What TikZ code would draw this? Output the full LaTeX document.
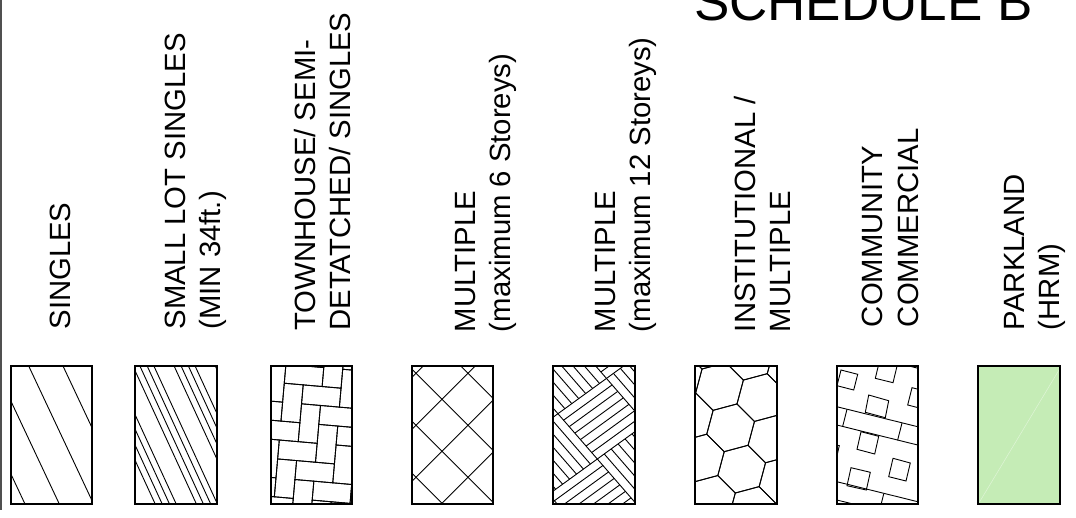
\documentclass[tikz,border=0pt]{standalone}
\usepackage{fontspec}
\setmainfont{Liberation Sans}
\definecolor{park}{RGB}{197,236,182}
\definecolor{edgegray}{RGB}{80,80,80}
\begin{document}
\begin{tikzpicture}[x=1pt,y=-1pt,
  lbl/.style={rotate=90,anchor=base west,inner sep=0pt,outer sep=0pt,font=\fontsize{29.3}{35}\selectfont},
  ttl/.style={anchor=base west,inner sep=0pt,outer sep=0pt,font=\fontsize{53}{60}\selectfont},
  boxframe/.style={draw=black,line width=1.8pt},
  hatch/.style={draw=black,line width=0.9pt}]
\clip (0,0) rectangle (1076,517);
\fill[white] (0,0) rectangle (1076,517);
% left edge line
\draw[edgegray,line width=2pt] (1.2,0) -- (1.2,510);
% title
\node[ttl] (title) at (694,20.5) {SCHEDULE B};
% labels
\node[lbl] (t1)  at (70,329.5)  {SINGLES};
\node[lbl] (t2a) at (185,329.5) {SMALL LOT SINGLES};
\node[lbl] (t2b) at (220,329.5) {(MIN 34ft.)};
\node[lbl] (t3a) at (315,330.5) {TOWNHOUSE/ SEMI-};
\node[lbl] (t3b) at (350,330.5) {DETATCHED/ SINGLES};
\node[lbl] (t4a) at (475,332)   {MULTIPLE};
\node[lbl] (t4b) at (510,332)   {(maximum 6 Storeys)};
\node[lbl] (t5a) at (615,332)   {MULTIPLE};
\node[lbl] (t5b) at (650,332)   {(maximum 12 Storeys)};
\node[lbl] (t6a) at (755,332)   {INSTITUTIONAL /};
\node[lbl] (t6b) at (790,332)   {MULTIPLE};
\node[lbl] (t7a) at (882,327)   {COMMUNITY};
\node[lbl] (t7b) at (918,327)   {COMMERCIAL};
\node[lbl] (t8a) at (1024,330)  {PARKLAND};
\node[lbl] (t8b) at (1059,330)  {(HRM)};
% ---- box 1: singles
\begin{scope}[shift={(11,366)}]
 \begin{scope}
  \clip (0,0) rectangle (81,138);
  \foreach \t in {-50.9,-16.6,17.7,52} \draw[hatch] (\t,0) -- ({\t+64.9},138);
 \end{scope}
 \draw[boxframe] (0,0) rectangle (81,138);
\end{scope}
% ---- box 2: small lot singles
\begin{scope}[shift={(135,366)}]
 \begin{scope}
  \clip (0,0) rectangle (82,138);
  \foreach \b in {-43.3,-2.1,39.1,80.3}
   \foreach \o in {0,7,14.3,21}
    \draw[hatch] ({\b+\o},0) -- ({\b+\o+63.5},138);
 \end{scope}
 \draw[boxframe] (0,0) rectangle (82,138);
\end{scope}
% ---- box 3: herringbone
\begin{scope}[shift={(271,366)}]
 \begin{scope}
  \clip (0,0) rectangle (81,138);
  \begin{scope}[shift={(8.3,74)},rotate=-5]
   \foreach \k in {-7,...,7}
    \foreach \m in {-4,...,4} {
     \pgfmathsetmacro\ha{19*(\k+2*\m)}
     \pgfmathsetmacro\hb{19*(\k-2*\m)}
     \draw[hatch] (\ha,\hb) rectangle ++(38,19);
     \draw[hatch] (\ha,\hb+19) rectangle ++(19,38);
    }
  \end{scope}
 \end{scope}
 \draw[boxframe] (0,0) rectangle (81,138);
\end{scope}
% ---- box 4: diamond grid
\begin{scope}[shift={(412,366)}]
 \begin{scope}
  \clip (0,0) rectangle (81,138);
  \foreach \c in {-48.7,3.3,55.3,107.3} \draw[hatch] (-20,\c-20) -- (160,\c+160);
  \foreach \d in {11.3,63.3,115.3,167.3,219.3} \draw[hatch] (-20,\d+20) -- (160,\d-160);
 \end{scope}
 \draw[boxframe] (0,0) rectangle (81,138);
\end{scope}
% ---- box 5: basket weave
\begin{scope}[shift={(553,366)}]
 \begin{scope}
  \clip (0,0) rectangle (82,138);
  \begin{scope}[shift={(44.3,93)},cm={0.809,0.588,-0.656,0.755,(0,0)}]
   \foreach \i in {-3,...,2}
    \foreach \j in {-3,...,2} {
     \pgfmathtruncatemacro\pp{mod(\i+\j+100,2)}
     \ifnum\pp=0
      \foreach \n in {0,...,7} \draw[hatch] ({\i*60+\n*8.571},{\j*60}) -- ++(0,60);
     \else
      \foreach \n in {0,...,7} \draw[hatch] ({\i*60},{\j*60+\n*8.571}) -- ++(60,0);
     \fi
    }
  \end{scope}
 \end{scope}
 \draw[boxframe] (0,0) rectangle (82,138);
\end{scope}
% ---- box 6: hexagons
\begin{scope}[shift={(695,366)}]
 \begin{scope}
  \clip (0,0) rectangle (82,138);
  \foreach \a in {-3,...,3}
   \foreach \b in {-3,...,3} {
    \pgfmathsetmacro\cx{35.6+11.08*\a+41.34*\b}
    \pgfmathsetmacro\cy{61.8+41.34*\a+11.08*\b}
    \draw[hatch,shift={(\cx,\cy)}] (-15:24.7) -- (45:24.7) -- (105:24.7) -- (165:24.7) -- (225:24.7) -- (285:24.7) -- cycle;
   }
 \end{scope}
 \draw[boxframe] (0,0) rectangle (82,138);
\end{scope}
% ---- box 7: community commercial
\begin{scope}[shift={(837,366)}]
 \begin{scope}
  \clip (0,0) rectangle (81,138);
  % bands
  \draw[hatch] (72,0) -- (100,7);
  \draw[hatch] (-5,39.5) -- (90,63);
  \draw[hatch] (-5,57.8) -- (90,81.3);
  \draw[hatch] (10,43.3) -- (5.6,60.6);
  \draw[hatch] (65,57) -- (60.6,74.3);
  \draw[hatch] (-5,114.5) -- (90,138);
  \draw[hatch] (-5,132.8) -- (90,156.3);
  \draw[hatch] (46.7,128) -- (42.3,145.3);
  % squares
  \draw[hatch] (4,4) -- (20.7,8.3) -- (16.7,24) -- (0,19.7) -- cycle;
  \draw[hatch] (42.3,-4.2) -- (60,0.2) -- (56,16.7) -- (38.3,12.3) -- cycle;
  \draw[hatch] (31.7,29) -- (51.7,34.7) -- (48.3,51.7) -- (28.3,46.3) -- cycle;
  \draw[hatch] (75,21.7) -- (92,26) -- (87.7,43.3) -- (70.7,39) -- cycle;
  \draw[hatch] (24,65.7) -- (41.7,70.3) -- (37.7,88) -- (20,83.3) -- cycle;
  \draw[hatch] (56,92.3) -- (73.3,97) -- (69,115) -- (51.7,110.7) -- cycle;
  \draw[hatch] (14,101.7) -- (33.3,106.3) -- (29.3,124) -- (10,119.7) -- cycle;
  \draw[hatch] (-15,75.3) -- (2.3,79.7) -- (-1.7,97) -- (-19,92.7) -- cycle;
 \end{scope}
 \draw[boxframe] (0,0) rectangle (81,138);
\end{scope}
% ---- box 8: parkland
\begin{scope}[shift={(978,366)}]
 \fill[park] (0,0) rectangle (82,138);
 \draw[white,opacity=0.45,line width=0.5pt] (1.7,135.7) -- (81,4);
 \draw[boxframe] (0,0) rectangle (82,138);
\end{scope}
\end{tikzpicture}
\end{document}
